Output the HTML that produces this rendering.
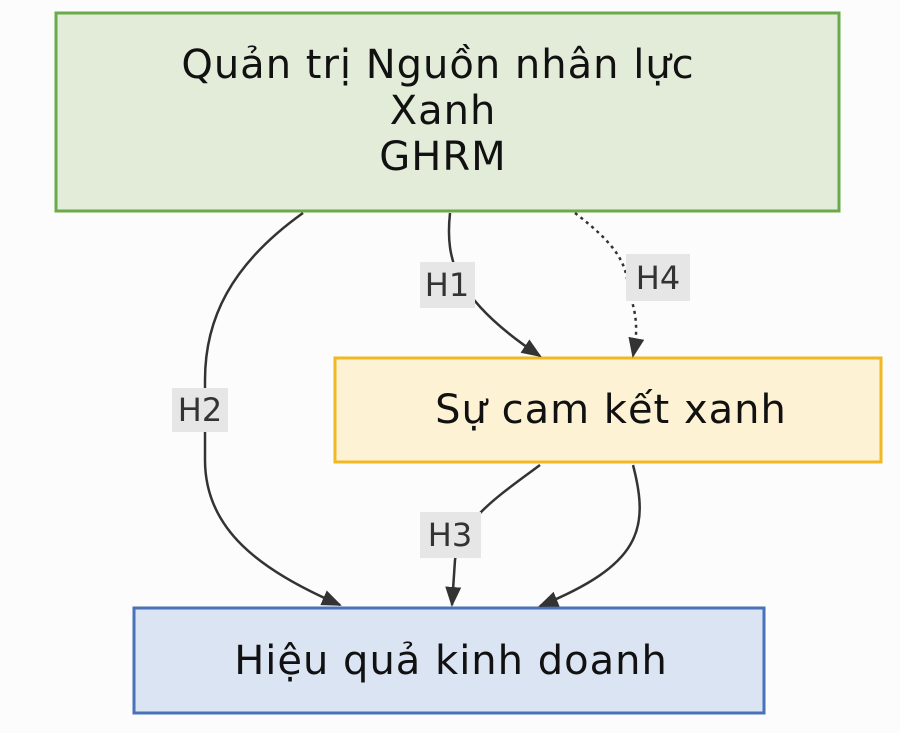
<!DOCTYPE html>
<html><head><meta charset="utf-8"><style>
body{margin:0;width:900px;height:733px;background:#fcfcfc;overflow:hidden;font-family:"DejaVu Sans","Liberation Sans",sans-serif}
svg{position:absolute;left:0;top:0}
</style></head><body>
<svg width="900" height="733" viewBox="0 0 900 733">
<defs>
<marker id="b" markerWidth="20" markerHeight="16" refX="18" refY="8" orient="auto" markerUnits="userSpaceOnUse" viewBox="0 0 20 16"><path d="M0,0L20,8L0,16z" fill="#333"/></marker></defs>
<rect x="56" y="13" width="783" height="198" fill="#e2ecd8" stroke="#6aaa4a" stroke-width="3"/>
<rect x="335" y="358" width="546" height="104" fill="#fdf2d4" stroke="#f0b823" stroke-width="3"/>
<rect x="134" y="608" width="630" height="105" fill="#dbe4f3" stroke="#4a72b8" stroke-width="3"/>
<g fill="none" stroke="#333" stroke-width="2.5">
<path d="M303,213 C230,265 205,320 205,380 L205,460 C205,530 260,570 340,605" marker-end="url(#b)"/>
<path d="M450,213 C445,260 455,300 540,356" marker-end="url(#b)"/>
<path d="M575,213 C610,240 628,260 628,290 C640,320 636,340 633,356" stroke-dasharray="3,4" marker-end="url(#b)"/>
<path d="M540,465 C500,495 460,520 455,560 L452,605" marker-end="url(#b)"/>
<path d="M633,465 C650,530 640,565 540,606" marker-end="url(#b)"/>
</g>
<g fill="#e6e6e6"><rect x="172" y="388" width="56" height="44"/><rect x="420" y="262" width="55" height="46"/><rect x="626" y="254" width="64" height="47"/><rect x="420" y="512" width="61" height="46"/></g>
<g style="font-size:32px" fill="#333" text-anchor="middle" font-family="DejaVu Sans,sans-serif">
<text x="200" y="421">H2</text><text x="447" y="296">H1</text><text x="658" y="289">H4</text><text x="450" y="546">H3</text></g>
<g style="font-size:40px;letter-spacing:1px" fill="#111" text-anchor="middle" font-family="DejaVu Sans,sans-serif">
<text x="438" y="78">Quản trị Nguồn nhân lực</text>
<text x="443" y="124">Xanh</text>
<text x="443" y="170">GHRM</text>
<text x="611" y="423">Sự cam kết xanh</text>
<text x="451" y="674">Hiệu quả kinh doanh</text></g>
</svg>
</body></html>
